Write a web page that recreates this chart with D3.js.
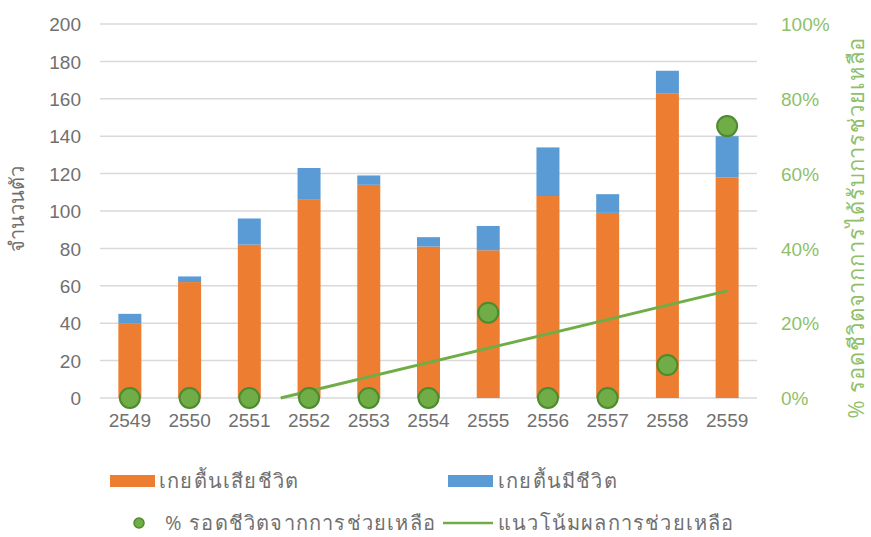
<!DOCTYPE html>
<html>
<head>
<meta charset="utf-8">
<script src="https://cdn.jsdelivr.net/npm/d3@7"></script>
<style>
  body { margin: 0; background: #fff; }
  svg { display: block; font-family: "Open Sans", "Noto Sans", "DejaVu Sans", sans-serif; }
</style>
</head>
<body>
<svg id="chart" width="871" height="537"></svg>
<script>
// Stranding records per year (Buddhist era)
const years = ["2549","2550","2551","2552","2553","2554","2555","2556","2557","2558","2559"];
const dead  = [40, 62, 82, 106, 114, 81, 79, 108, 99, 163, 118];
const alive = [5, 3, 14, 17, 5, 5, 13, 26, 10, 12, 22];
const survivalPct = [0, 0, 0, 0, 0, 0, 22.8, 0, 0, 8.8, 72.7];
const leftTicks = [0, 20, 40, 60, 80, 100, 120, 140, 160, 180, 200];
const rightTicks = [0, 20, 40, 60, 80, 100];

const labels = {
  dead: "เกยตื้นเสียชีวิต",
  alive: "เกยตื้นมีชีวิต",
  pct: "% รอดชีวิตจากการช่วยเหลือ",
  trend: "แนวโน้มผลการช่วยเหลือ",
  leftTitle: "จำนวนตัว",
  rightTitle: "% รอดชีวิตจากการได้รับการช่วยเหลือ"
};

const colors = { dead: "#ED7D31", alive: "#5B9BD5", green: "#70AD47", greenDark: "#4E8A2E",
                 grid: "#D9D9D9", text: "#707070", rightText: "#8FBF6A" };

const svg = d3.select("#chart");
const m = { left: 100, right: 757, top: 24, bottom: 398 };

const x = d3.scaleBand().domain(years).range([m.left, m.right]).paddingInner(0.615).paddingOuter(0.3075);
const y = d3.scaleLinear().domain([0, 200]).range([m.bottom, m.top]);
const y2 = d3.scaleLinear().domain([0, 100]).range([m.bottom, m.top]);

// gridlines
svg.append("g").selectAll("line").data(leftTicks).join("line")
  .attr("x1", m.left).attr("x2", m.right)
  .attr("y1", d => y(d)).attr("y2", d => y(d))
  .attr("stroke", colors.grid).attr("stroke-width", 1.5);

// left axis
const leftAxis = svg.append("g").attr("transform", `translate(${m.left - 19},0)`)
  .call(d3.axisLeft(y).tickValues(leftTicks).tickSize(0).tickPadding(0));
leftAxis.select(".domain").remove();
leftAxis.selectAll("text").attr("fill", colors.text).style("font-size", "19px").attr("dy", "0.35em");

// right axis
const rightAxis = svg.append("g").attr("transform", `translate(${m.right + 24},0)`)
  .call(d3.axisRight(y2).tickValues(rightTicks).tickSize(0).tickPadding(0).tickFormat(d => d + "%"));
rightAxis.select(".domain").remove();
rightAxis.selectAll("text").attr("fill", colors.rightText).style("font-size", "19px").attr("dy", "0.35em");

// bottom axis
const bottomAxis = svg.append("g").attr("transform", `translate(0,${m.bottom + 15})`)
  .call(d3.axisBottom(x).tickSize(0).tickPadding(0));
bottomAxis.select(".domain").remove();
bottomAxis.selectAll("text").attr("fill", colors.text).style("font-size", "19px").attr("dy", "0.71em");

// stacked bars
const stackData = years.map((yr, i) => ({ year: yr, dead: dead[i], alive: alive[i] }));
const series = d3.stack().keys(["dead", "alive"])(stackData);
svg.append("g").selectAll("g").data(series).join("g")
  .attr("fill", d => colors[d.key])
  .selectAll("rect").data(d => d).join("rect")
  .attr("x", d => x(d.data.year))
  .attr("width", x.bandwidth())
  .attr("y", d => y(d[1]))
  .attr("height", d => y(d[0]) - y(d[1]));

// linear trend of survival percentage (least squares over year index), clipped at 0%
const idx = years.map((_, i) => i + 1);
const mx = d3.mean(idx), my = d3.mean(survivalPct);
const slope = d3.sum(idx, (v, i) => (v - mx) * (survivalPct[i] - my)) / d3.sum(idx, v => (v - mx) ** 2);
const intercept = my - slope * mx;
const xi = i => x(years[0]) + x.bandwidth() / 2 + (i - 1) * x.step();
const zeroAt = -intercept / slope;
const startI = Math.max(1, zeroAt), endI = idx.length;
svg.append("line")
  .attr("x1", xi(startI)).attr("y1", y2(slope * startI + intercept))
  .attr("x2", xi(endI)).attr("y2", y2(slope * endI + intercept))
  .attr("stroke", colors.green).attr("stroke-width", 3);

// survival points
svg.append("g").selectAll("circle").data(survivalPct).join("circle")
  .attr("cx", (d, i) => x(years[i]) + x.bandwidth() / 2)
  .attr("cy", d => y2(d))
  .attr("r", 10)
  .attr("fill", colors.green).attr("stroke", colors.greenDark).attr("stroke-width", 2);

// axis titles
svg.append("text").attr("transform", "translate(24,209) rotate(-90)")
  .attr("text-anchor", "middle").attr("fill", colors.text).style("font-size", "20px")
  .text(labels.leftTitle);
svg.append("text").attr("transform", "translate(864,228) rotate(-90)")
  .attr("text-anchor", "middle").attr("fill", colors.rightText).style("font-size", "22px")
  .style("letter-spacing", "0.9px")
  .text(labels.rightTitle);

// legend
const lg = svg.append("g").style("font-size", "20px").style("letter-spacing", "1.2px").attr("fill", colors.text);
lg.append("rect").attr("x", 110).attr("y", 475).attr("width", 45).attr("height", 12).attr("fill", colors.dead);
lg.append("text").attr("x", 159).attr("y", 481).attr("dy", "0.35em").text(labels.dead);
lg.append("rect").attr("x", 448).attr("y", 475).attr("width", 45).attr("height", 12).attr("fill", colors.alive);
lg.append("text").attr("x", 498).attr("y", 481).attr("dy", "0.35em").text(labels.alive);
lg.append("circle").attr("cx", 139).attr("cy", 523).attr("r", 5).attr("fill", colors.green).attr("stroke", colors.greenDark).attr("stroke-width", 1.5);
lg.append("text").attr("x", 165).attr("y", 523).attr("dy", "0.35em").text(labels.pct);
lg.append("line").attr("x1", 443).attr("x2", 493).attr("y1", 523).attr("y2", 523).attr("stroke", colors.green).attr("stroke-width", 2.5);
lg.append("text").attr("x", 498).attr("y", 523).attr("dy", "0.35em").text(labels.trend);
</script>
</body>
</html>
